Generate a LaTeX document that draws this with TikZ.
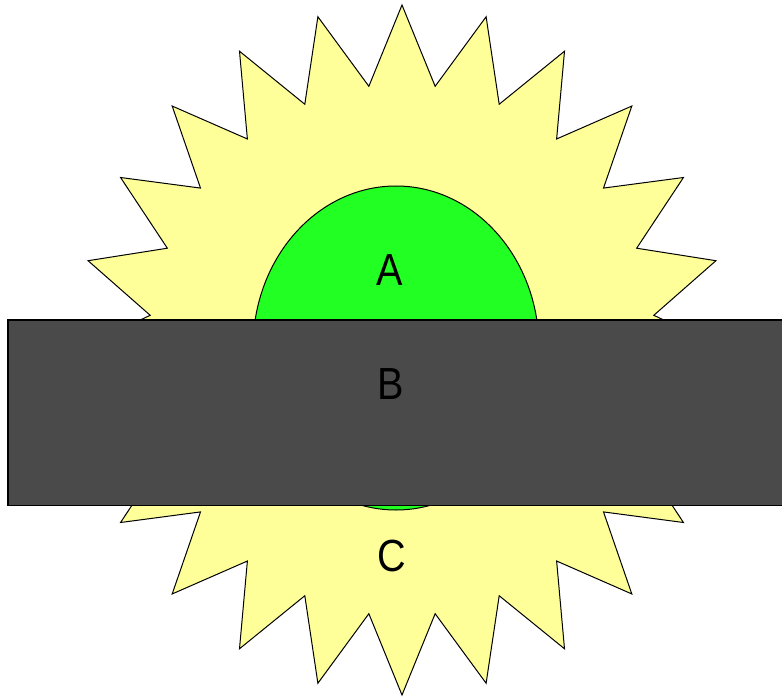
\documentclass[tikz,border=0pt]{standalone}
\usepackage{fontspec}
\setmainfont{Liberation Sans}
\definecolor{staryellow}{RGB}{255,255,153}
\definecolor{blobgreen}{RGB}{34,255,34}
\definecolor{bargray}{RGB}{74,74,74}
\begin{document}
\begin{tikzpicture}[x=1pt,y=-1pt,
  shapeline/.style={draw=black,line width=1pt,line join=miter},
  lbl/.style={inner sep=0pt,anchor=center,font=\fontsize{45}{50}\selectfont}]
\clip (0,0) rectangle (782,698);
% starburst
\draw[shapeline,fill=staryellow] (402,5)
  \foreach \k in {0,...,23} {
    -- ({402+254*sin(15*\k+7.5)},{350-266*cos(15*\k+7.5)})
    -- ({402+325*sin(15*\k+15)},{350-345*cos(15*\k+15)})
  } -- cycle;
% green ellipse
\draw[shapeline,fill=blobgreen] (396,348) ellipse [x radius=143, y radius=162];
% dark bar
\draw[draw=black,line width=1.3pt,fill=bargray] (8,320) rectangle (810,505.5);
% labels
\node[lbl] (A) at (390,270) {\scalebox{0.88}[1]{A}};
\node[lbl] (B) at (391,384) {\scalebox{0.88}[1]{B}};
\node[lbl] (C) at (391.5,556.5) {\scalebox{0.88}[1]{C}};
\end{tikzpicture}
\end{document}
